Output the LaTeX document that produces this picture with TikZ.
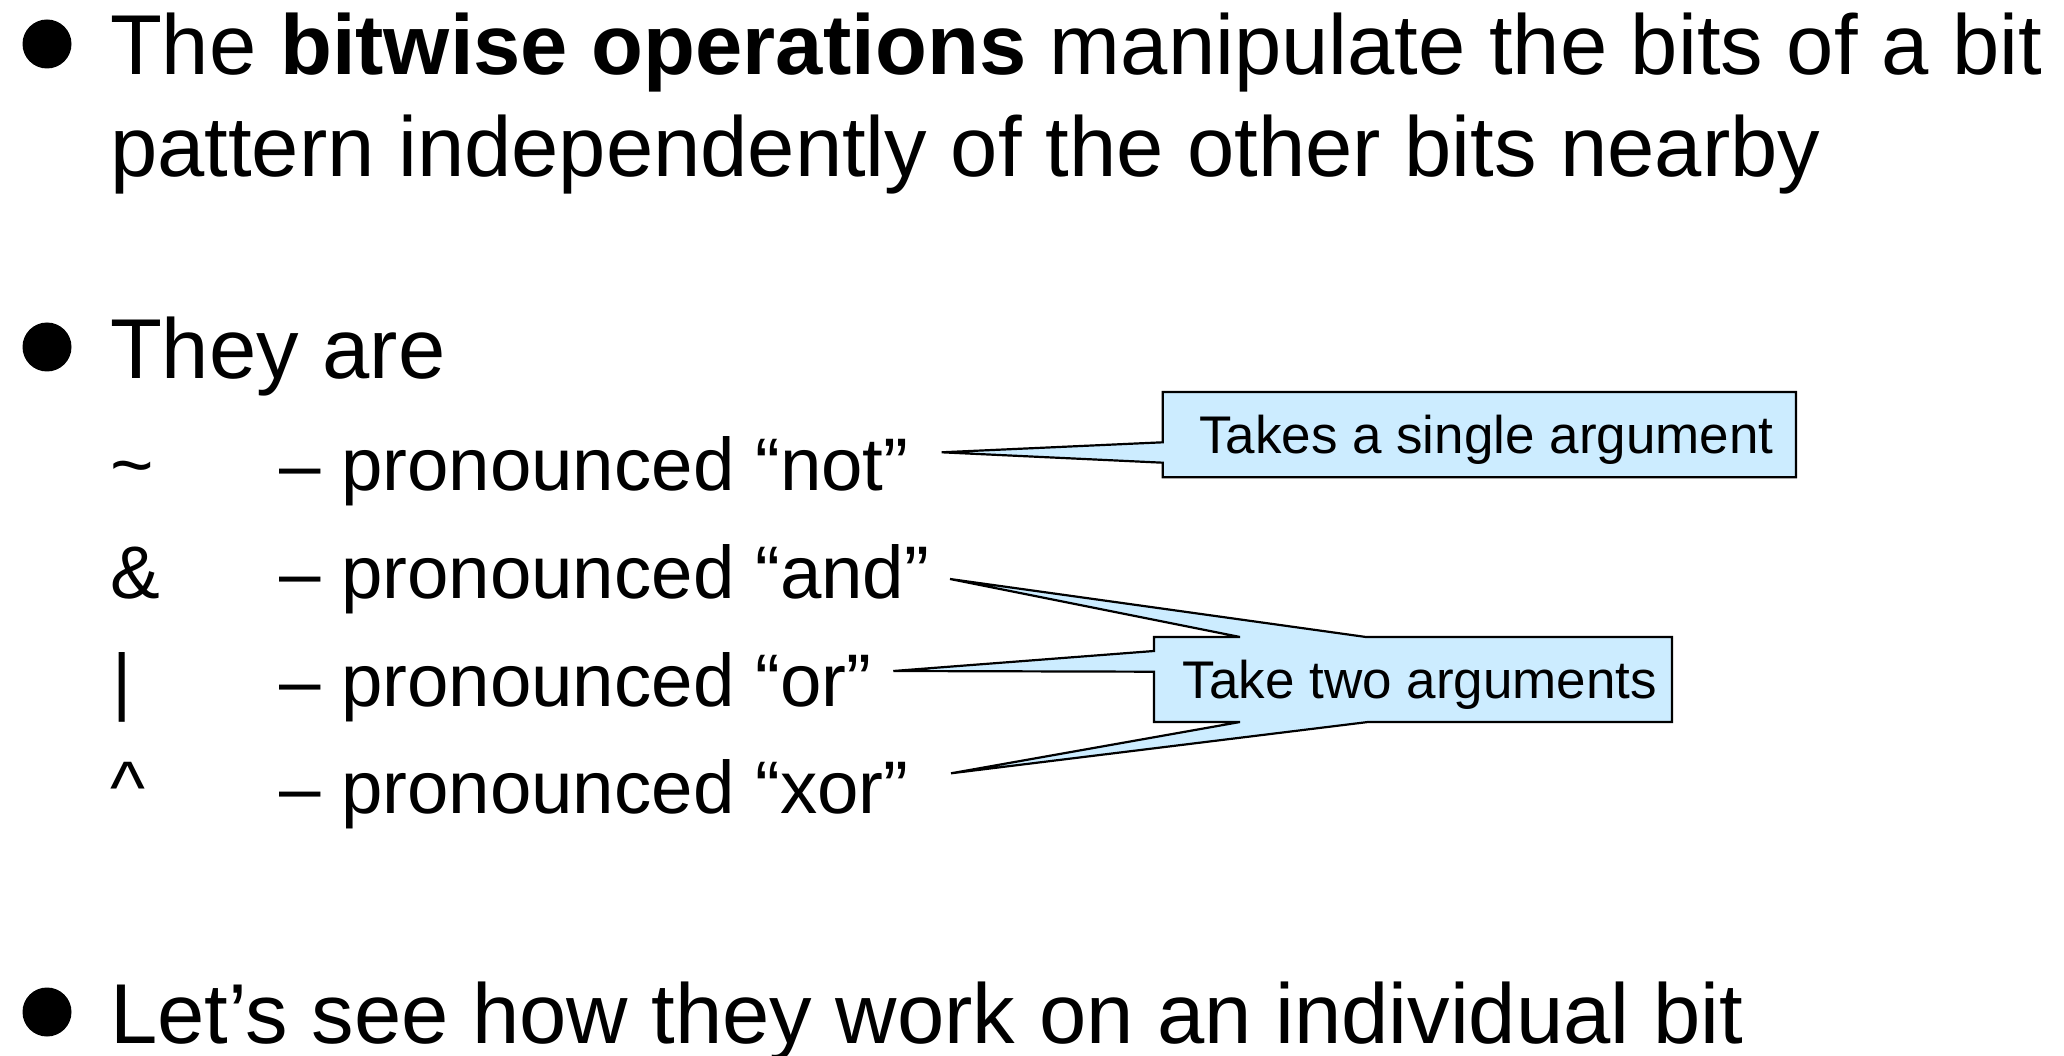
\documentclass[tikz,border=0pt]{standalone}
\usepackage{fontspec}
\setmainfont{Liberation Sans}
\usetikzlibrary{calc}
\pgfdeclarelayer{bg}
\pgfsetlayers{bg,main}
\definecolor{callfill}{HTML}{CCECFF}
\begin{document}
\begin{tikzpicture}[x=1pt,y=-1pt,
  maintext/.style={anchor=base west,inner sep=0pt,outer sep=0pt,font=\fontsize{85}{100}\selectfont},
  subtext/.style={anchor=base west,inner sep=0pt,outer sep=0pt,font=\fontsize{74.5}{88}\selectfont},
  dot/.style={circle,fill=black,inner sep=0pt,outer sep=0pt,minimum size=49pt},
  callbox/.style={inner sep=0pt,outer sep=0pt,anchor=north west,font=\fontsize{53}{60}\selectfont,text height=38pt,text depth=0pt},
  callout/.style={fill=callfill,draw=black,line width=2.2pt,line join=miter}]
\useasboundingbox (0,0) rectangle (2064,1056);

% bullets
\node[dot] (b1) at (47,44) {};
\node[dot] (b2) at (47,347) {};
\node[dot] (b3) at (47,1012) {};

% main text
\node[maintext] (l1) at (110,75) {The \textbf{bitwise operations} manipulate the bits of a bit};
\node[maintext] (l2) at (110,177) {pattern independently of the other bits nearby};
\node[maintext] (l3) at (110,378) {They are};
\node[maintext] (l4) at (110,1043) {Let’s see how they work on an individual bit};

% operators
\node[subtext] (s1) at (110,490) {\textasciitilde};
\node[subtext] (s2) at (110,598) {\&};
\node[subtext] (s3) at (112,706) {|};
\node[subtext] (s4) at (110,813) {\textasciicircum};
\node[subtext] (d1) at (279,490) {– pronounced “not”};
\node[subtext] (d2) at (279,598) {– pronounced “and”};
\node[subtext] (d3) at (279,706) {– pronounced “or”};
\node[subtext] (d4) at (279,813) {– pronounced “xor”};

% callout boxes
\node[callbox,minimum width=633.3pt,minimum height=85.3pt] (box1) at (1162.7,392) {\hspace*{14pt}Takes a single argument};
\node[callbox,minimum width=518pt,minimum height=85pt] (box2) at (1154,637) {\hspace*{14pt}Take two arguments};

\coordinate (tipnot) at (941.7,452.3);
\coordinate (tipand) at (950,579);
\coordinate (tipor) at (893.3,671);
\coordinate (tipxor) at (951,773.3);

\begin{pgfonlayer}{bg}
\draw[callout] (box1.north west) -- (box1.north east) -- (box1.south east) -- (box1.south west)
  -- ($(box1.north west)+(0,70.7)$) -- (tipnot) -- ($(box1.north west)+(0,50.3)$) -- cycle;
\draw[callout] (box2.north west) -- ($(box2.north west)+(86,0)$) -- (tipand) -- ($(box2.north west)+(212,0)$)
  -- (box2.north east) -- (box2.south east) -- ($(box2.south west)+(214,0)$) -- (tipxor)
  -- ($(box2.south west)+(86,0)$) -- (box2.south west) -- ($(box2.north west)+(0,34.7)$)
  -- (tipor) -- ($(box2.north west)+(0,14)$) -- cycle;
\end{pgfonlayer}
\end{tikzpicture}
\end{document}
